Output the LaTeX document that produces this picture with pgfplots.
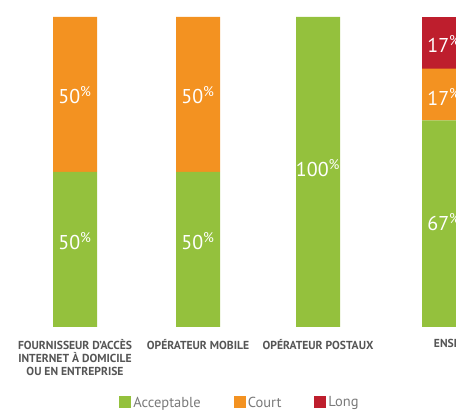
\documentclass[border=0pt]{standalone}
\usepackage{pgfplots}
\pgfplotsset{compat=1.18}
\usepackage{fontspec}
\setmainfont{PT Sans}

\definecolor{accgreen}{HTML}{94C13D}
\definecolor{courtorange}{HTML}{F39221}
\definecolor{longred}{HTML}{BE1E2D}
\definecolor{ticktext}{HTML}{555555}
\definecolor{legtext}{HTML}{7A7A7A}

\begin{document}
\begin{tikzpicture}
% bars
\begin{axis}[
    width=456pt, height=310pt, scale only axis,
    xmin=0, xmax=456, ymin=0, ymax=100,
    ybar stacked, bar width=44,
    axis line style={draw=none},
    ytick=\empty,
    xtick={75,198,318,444},
    xticklabels={{FOURNISSEUR D'ACCÈS\\INTERNET À DOMICILE\\OU EN ENTREPRISE},
                 OPÉRATEUR MOBILE, OPÉRATEUR POSTAUX, \hspace*{34pt}ENSEMBLE},
    xticklabel style={align=center, font=\bfseries\fontsize{11.6}{13}\selectfont,
                      text=ticktext, anchor=north, yshift=-9pt},
    major tick length=0pt,
    legend style={at={(axis cs:240,-24.4)}, anchor=center, draw=none,
                  legend columns=3, font=\fontsize{14.5}{14.5}\selectfont, text=legtext,
                  /tikz/every even column/.append style={column sep=31pt}},
    legend image code/.code={\fill[#1] (-4pt,-5.5pt) rectangle (8pt,6.5pt);},
]
\addplot[fill=accgreen, draw=none] coordinates {(75,50) (198,50) (318,100) (444,66.67)};
\addplot[fill=courtorange, draw=none] coordinates {(75,50) (198,50) (318,0) (444,16.67)};
\addplot[fill=longred, draw=none] coordinates {(75,0) (198,0) (318,0) (444,16.67)};
\legend{Acceptable, Court, Long}
\coordinate (bl) at (axis cs:0,-27.1);
\coordinate (tr) at (axis cs:456,105.48);
\end{axis}

% value labels inside the bars
\begin{axis}[
    width=456pt, height=310pt, scale only axis,
    xmin=0, xmax=456, ymin=0, ymax=100,
    hide axis, clip=false,
    nodes near coords={\pgfplotspointmeta\textsuperscript{\%}},
    point meta=explicit symbolic,
    every node near coord/.append style={anchor=center, text=white,
        font=\fontsize{20}{20}\selectfont},
]
\addplot[draw=none, mark=none] coordinates {
    (75,27.7)[50] (75,74.8)[50] (198,27.7)[50] (198,74.8)[50]
    (318,51.3)[100] (444,33.9)[67] (444,74.2)[17] (444,91.3)[17]
};
\end{axis}

\pgfresetboundingbox
\path[use as bounding box] (bl) rectangle (tr);
\end{tikzpicture}
\end{document}
